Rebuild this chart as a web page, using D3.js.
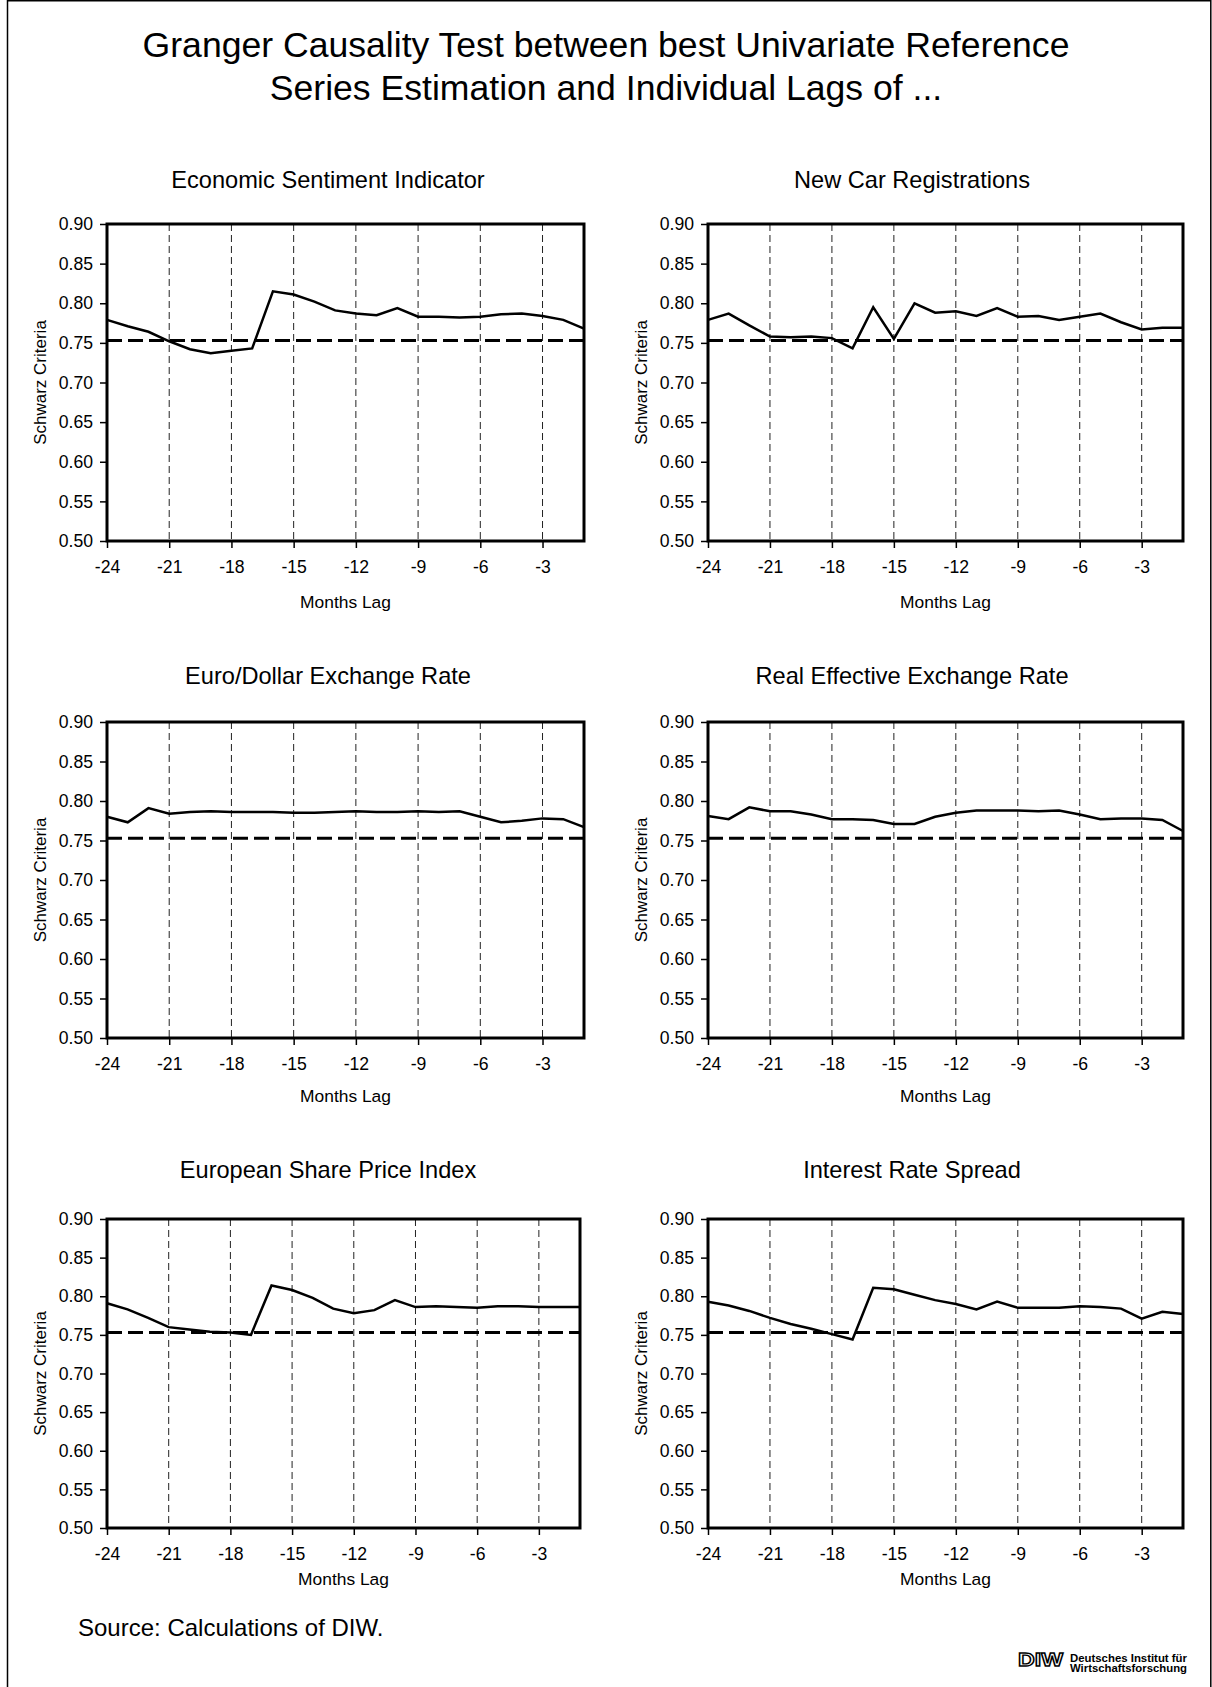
<!DOCTYPE html>
<html>
<head>
<meta charset="utf-8">
<script src="https://cdn.jsdelivr.net/npm/d3@7"></script>
<style>
  html, body { margin: 0; padding: 0; background: #fff; }
  svg { display: block; font-family: "Liberation Sans", Arial, sans-serif; }
</style>
</head>
<body>
<svg id="chart" width="1212" height="1687"></svg>
<script>
// ---------- data ----------
const lags = [-24,-23,-22,-21,-20,-19,-18,-17,-16,-15,-14,-13,-12,-11,-10,-9,-8,-7,-6,-5,-4,-3,-2,-1];
const xTicks = [-24,-21,-18,-15,-12,-9,-6,-3];
const yTicks = [0.50,0.55,0.60,0.65,0.70,0.75,0.80,0.85,0.90];
const panelTitles = ["Economic Sentiment Indicator","New Car Registrations","Euro/Dollar Exchange Rate",
                     "Real Effective Exchange Rate","European Share Price Index","Interest Rate Spread"];
const benchmark = 0.753;

const economicSentiment = [0.779,0.771,0.764,0.752,0.742,0.737,0.740,0.743,0.815,0.811,0.802,0.791,0.787,0.785,0.794,0.783,0.783,0.782,0.783,0.786,0.787,0.784,0.779,0.768];
const newCarRegistrations = [0.779,0.787,0.772,0.758,0.757,0.758,0.756,0.743,0.795,0.755,0.800,0.788,0.790,0.784,0.794,0.783,0.784,0.779,0.783,0.787,0.776,0.767,0.769,0.769];
const euroDollar = [0.780,0.773,0.791,0.784,0.786,0.787,0.786,0.786,0.786,0.785,0.785,0.786,0.787,0.786,0.786,0.787,0.786,0.787,0.780,0.773,0.775,0.778,0.777,0.767];
const realEffective = [0.781,0.777,0.792,0.787,0.787,0.783,0.777,0.777,0.776,0.771,0.771,0.780,0.785,0.788,0.788,0.788,0.787,0.788,0.783,0.777,0.778,0.778,0.776,0.762];
const sharePrice = [0.791,0.783,0.772,0.760,0.757,0.754,0.753,0.750,0.814,0.808,0.798,0.784,0.778,0.782,0.795,0.786,0.787,0.786,0.785,0.787,0.787,0.786,0.786,0.786];
const rateSpread = [0.793,0.788,0.781,0.772,0.764,0.758,0.751,0.744,0.811,0.809,0.802,0.795,0.790,0.783,0.793,0.785,0.785,0.785,0.787,0.786,0.784,0.771,0.780,0.777];

const seriesList = [economicSentiment, newCarRegistrations, euroDollar, realEffective, sharePrice, rateSpread];

// ---------- layout ----------
const svg = d3.select("#chart");
const W = 1212, H = 1687;

// page frame
svg.append("line").attr("x1",7.5).attr("x2",7.5).attr("y1",0).attr("y2",H).attr("stroke","#000").attr("stroke-width",1.5);
svg.append("line").attr("x1",1210.8).attr("x2",1210.8).attr("y1",0).attr("y2",H).attr("stroke","#000").attr("stroke-width",1.5);
svg.append("line").attr("x1",7.5).attr("x2",1210.8).attr("y1",0.75).attr("y2",0.75).attr("stroke","#000").attr("stroke-width",1.5);

// main title
const title = svg.append("text").attr("text-anchor","middle").attr("font-size",35.6).attr("fill","#000");
title.append("tspan").attr("x",606).attr("y",57).text("Granger Causality Test between best Univariate Reference");
title.append("tspan").attr("x",606).attr("y",100).text("Series Estimation and Individual Lags of ...");

const cols = [{l:107, r:584, tc:328}, {l:708, r:1183, tc:912}];
const rows = [{t:224, b:541, tb:188, xl:608, pad:13}, {t:722, b:1038, tb:684, xl:1102, pad:13}, {t:1219, b:1528, tb:1178, xl:1585, pad:13}];

seriesList.forEach((vals, i) => {
  const c = cols[i % 2], r = rows[Math.floor(i / 2)];
  let right = c.r;
  if (i === 4) right = 580;
  const x = d3.scaleLinear().domain([-24, -1]).range([c.l, right]);
  const y = d3.scaleLinear().domain([0.50, 0.90]).range([r.b, r.t]);
  const g = svg.append("g");

  // panel title
  g.append("text").attr("x", c.tc).attr("y", r.tb).attr("text-anchor","middle")
    .attr("font-size",23.6).attr("fill","#000").text(panelTitles[i]);

  // vertical dashed gridlines
  g.append("g").selectAll("line").data(xTicks.filter(d => d !== -24)).join("line")
    .attr("x1", d => x(d)).attr("x2", d => x(d))
    .attr("y1", r.t).attr("y2", r.b)
    .attr("stroke","#222").attr("stroke-width",1).attr("stroke-dasharray","7,4");

  // benchmark dashed line
  g.append("line").attr("x1", x(-24)).attr("x2", x(-1))
    .attr("y1", y(benchmark)).attr("y2", y(benchmark))
    .attr("stroke","#000").attr("stroke-width",3).attr("stroke-dasharray","15,6");

  // series line
  const line = d3.line().x((d, k) => x(lags[k])).y(d => y(d));
  g.append("path").datum(vals).attr("d", line)
    .attr("fill","none").attr("stroke","#000").attr("stroke-width",2.5).attr("stroke-linejoin","miter");

  // plot frame
  g.append("rect").attr("x", c.l).attr("y", r.t).attr("width", right - c.l).attr("height", r.b - r.t)
    .attr("fill","none").attr("stroke","#000").attr("stroke-width",3);

  // axes
  const yAxis = d3.axisLeft(y).tickValues(yTicks).tickFormat(d3.format(".2f")).tickSize(7).tickPadding(7);
  const ya = g.append("g").attr("transform", `translate(${c.l},0)`).call(yAxis);
  const xAxis = d3.axisBottom(x).tickValues(xTicks).tickFormat(d => String(d)).tickSize(7).tickPadding(r.pad);
  const xa = g.append("g").attr("transform", `translate(0,${r.b})`).call(xAxis);
  [ya, xa].forEach(a => {
    a.select(".domain").remove();
    a.selectAll(".tick line").attr("stroke","#000").attr("stroke-width",1.5);
    a.selectAll(".tick text").attr("font-size",17.6).attr("fill","#000")
      .attr("font-family","'Liberation Sans', Arial, sans-serif");
  });

  // axis titles
  g.append("text").attr("x", (c.l + right) / 2).attr("y", r.xl).attr("text-anchor","middle")
    .attr("font-size",17.4).attr("fill","#000").text("Months Lag");
  const yc = (r.t + r.b) / 2, xt = c.l - 61;
  g.append("text").attr("transform", `translate(${xt},${yc}) rotate(-90)`).attr("text-anchor","middle")
    .attr("font-size",17).attr("fill","#000").text("Schwarz Criteria");
});

// source
svg.append("text").attr("x",78).attr("y",1636).attr("font-size",24).attr("fill","#000").text("Source: Calculations of DIW.");

// DIW logo
const logo = svg.append("g");
logo.append("text").attr("x",1018).attr("y",1666).attr("font-size",19).attr("font-weight","bold")
  .attr("textLength",45).attr("lengthAdjust","spacingAndGlyphs")
  .attr("fill","#fff").attr("stroke","#000").attr("stroke-width",1.3).text("DIW");
logo.append("text").attr("x",1070).attr("y",1662).attr("font-size",10.5).attr("font-weight","bold")
  .attr("textLength",117).attr("lengthAdjust","spacingAndGlyphs").attr("fill","#000").text("Deutsches Institut für");
logo.append("text").attr("x",1070).attr("y",1672).attr("font-size",10.5).attr("font-weight","bold")
  .attr("textLength",117).attr("lengthAdjust","spacingAndGlyphs").attr("fill","#000").text("Wirtschaftsforschung");
</script>
</body>
</html>
